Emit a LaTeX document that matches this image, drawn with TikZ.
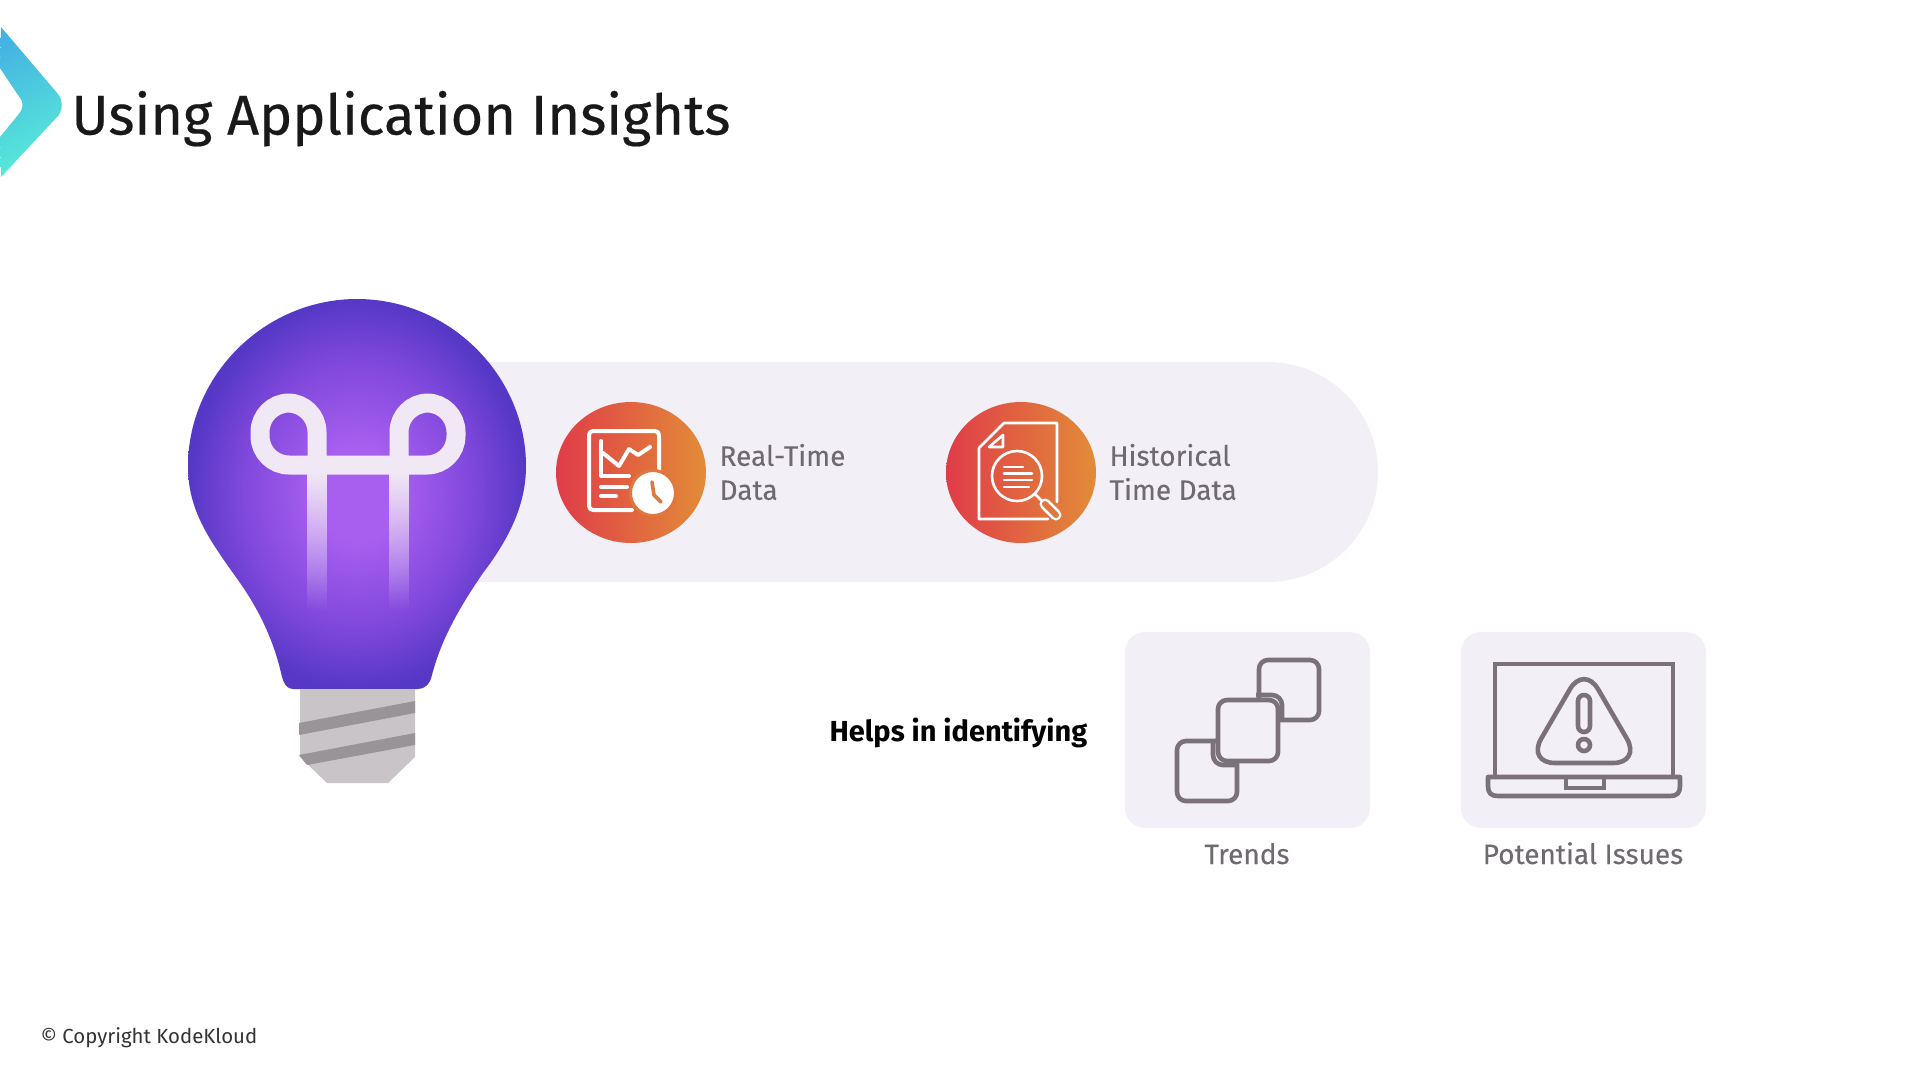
\documentclass[tikz,border=0pt]{standalone}
\usepackage{fontspec}
\usetikzlibrary{fadings}
\setmainfont{Fira Sans}
\newfontfamily\titlefont[FakeBold=0.35]{Fira Sans}
\newfontfamily\labelfont[FakeBold=0.12]{Fira Sans}
\definecolor{pillbg}{HTML}{F3EFF6}
\definecolor{icongray}{HTML}{7A7278}
\definecolor{labelgray}{HTML}{6F6A70}
\definecolor{capgray}{HTML}{C8C4C8}
\definecolor{capdark}{HTML}{989498}
\definecolor{fila}{HTML}{F0E8F5}
\definecolor{bulbin}{HTML}{A85FF0}
\definecolor{bulbmid}{HTML}{8048DC}
\definecolor{bulbout}{HTML}{5638C6}
\definecolor{badgel}{HTML}{E03C48}
\definecolor{badger}{HTML}{E28C38}
\definecolor{badgem}{HTML}{DE783E}
\definecolor{chevl}{HTML}{45B4E2}
\definecolor{chevr}{HTML}{58ECD8}
\pgfdeclareradialshading{bulbglow}{\pgfpoint{0bp}{0bp}}{color(0bp)=(bulbin); color(6bp)=(bulbin); color(17bp)=(bulbmid); color(25bp)=(bulbout); color(50bp)=(bulbout)}
\tikzfading[name=fadedown, top color=transparent!0, bottom color=transparent!100]
\tikzset{
	labeltxt/.style={anchor=west, align=left, text=labelgray, font=\labelfont\fontsize{28}{34}\selectfont},
	captxt/.style={anchor=base, text=labelgray, font=\labelfont\fontsize{28}{34}\selectfont},
	badge/.style={left color=badgel, right color=badger},
	iconline/.style={draw=white, line width=4pt, line cap=round, line join=round},
	thinline/.style={draw=white, line width=2.6pt, line cap=round, line join=round},
	grayline/.style={draw=icongray, line width=4.6pt, line join=round},
	filaline/.style={fila, line width=19pt, rounded corners=29pt},
	filabar/.style={fila, path fading=fadedown},
}
\begin{document}
\begin{tikzpicture}[x=1pt,y=-1pt]
\useasboundingbox (0,0) rectangle (1920,1080);

% chevron
\shade[left color=chevl, right color=chevr, shading angle=25] (1,27) -- (58,94) .. controls (63,101) and (63,109) .. (58,116) -- (1,177) -- (0,137) -- (18,115) .. controls (24,108) and (24,102) .. (18,95) -- (0,68) -- cycle;

\node[anchor=base west, text=black!90, font=\titlefont\fontsize{56}{64}\selectfont] (title) at (68,134.5) {Using Application Insights};

% pill
\fill[pillbg, rounded corners=110pt] (360,362) rectangle (1378,582);

% bulb
\shade[shading=bulbglow] (357,299) .. controls (450,299) and (526,376) .. (526,466) .. controls (526,506) and (508,540) .. (483,573) .. controls (459,608) and (441,640) .. (432,675) .. controls (430,684) and (425,689) .. (418,689) -- (293,689) .. controls (287,689) and (284,684) .. (282,677) .. controls (274,640) and (258,608) .. (238,580) .. controls (208,538) and (188,510) .. (188,466) .. controls (188,376) and (264,299) .. (357,299) -- cycle;

% filament
\draw[filaline] (317,466) -- (317,403) -- (260,403) -- (260,465) -- (345,465);
\draw[filaline] (399,466) -- (399,403) -- (456,403) -- (456,465) -- (345,465);
\fill[filabar] (307,474) rectangle (327,610);
\fill[filabar] (389,474) rectangle (409,610);

% cap
\fill[capgray] (300,689) -- (415,689) -- (415,757) -- (388,783) -- (327,783) -- (300,757) -- cycle;
\fill[capdark] (299,723) -- (415,701) -- (415,713) -- (299,735) -- cycle;
\fill[capdark] (299,755) -- (415,733) -- (415,745) -- (307,765) -- cycle;

% real-time badge
\shade[badge] (631,472.5) circle[x radius=75pt, y radius=70.5pt];
\draw[iconline, rounded corners=4pt] (632,510) -- (589,510) -- (589,431) -- (659,431) -- (659,478);
\draw[iconline] (601,441) -- (601,476) -- (629,476);
\draw[iconline] (603,453) -- (619,466) -- (629,449) -- (638,455) -- (650,447);
\draw[iconline] (601,487) -- (627,487);
\draw[iconline] (601,496) -- (616,496);
\filldraw[fill=white, draw=badgem, line width=3pt] (653,493) circle (22.5pt);
\draw[draw=badgem, line width=3.6pt, line cap=round, line join=round] (652,482) -- (654,495) -- (661,502);

\node[labeltxt] (realtime) at (716,472) {Real-Time\\Data};

% historical badge
\shade[badge] (1021,472.5) circle[x radius=75pt, y radius=70.5pt];
\draw[thinline] (1048,519) -- (979,519) -- (979,448) -- (1004,423) -- (1057,423) -- (1057,502);
\draw[thinline] (989,447) -- (1003,435) -- (1003,447) -- cycle;
\draw[thinline] (1017,476) circle (25pt);
\draw[thinline] (1004,467) -- (1023,467);
\draw[thinline] (1004,473.5) -- (1032,473.5);
\draw[thinline] (1004,480) -- (1032,480);
\draw[thinline] (1004,487) -- (1029,487);
\draw[thinline] (1035,494) -- (1042,501);
\draw[white, line width=11pt, line cap=round] (1045,504) -- (1056,515);
\draw[badgem, line width=6pt, line cap=round] (1045,504) -- (1056,515);

\node[labeltxt] (histdata) at (1106,472) {Historical\\Time Data};

\node[anchor=base west, text=black, font=\fontsize{29}{34}\selectfont\bfseries] (helps) at (826,741) {Helps in identifying};

% trends
\fill[pillbg, rounded corners=20pt] (1125,632) rectangle (1370,828);
\draw[grayline, rounded corners=9pt] (1259,660) rectangle (1319,720);
\draw[grayline, rounded corners=9pt] (1177,741) rectangle (1237,801);
\draw[grayline, rounded corners=10pt] (1256,695) -- (1282,695) -- (1282,720);
\draw[grayline, rounded corners=10pt] (1213,741) -- (1213,765) -- (1237,765);
\filldraw[fill=pillbg, grayline, rounded corners=9pt] (1218,700) rectangle (1278,761);
\node[captxt] (trends) at (1247,864) {Trends};

% issues
\fill[pillbg, rounded corners=20pt] (1461,632) rectangle (1706,828);
\draw[grayline, line join=miter] (1495,777) -- (1495,664) -- (1673,664) -- (1673,777);
\draw[grayline] (1488,777) -- (1488,786) .. controls (1488,793) and (1491,796) .. (1498,796) -- (1670,796) .. controls (1677,796) and (1680,793) .. (1680,786) -- (1680,777) -- cycle;
\draw[grayline, line join=miter] (1566,777) -- (1566,788) -- (1604,788) -- (1604,777);
\draw[grayline, rounded corners=28pt] (1584,665) -- (1641,763) -- (1527,763) -- cycle;
\draw[grayline, rounded corners=6pt] (1578,695) rectangle (1590,732);
\draw[grayline] (1584,745) circle (6pt);
\node[captxt] (issues) at (1583,864) {Potential Issues};

\node[anchor=base west, text=black!80, font=\fontsize{20.4}{24}\selectfont] (copyright) at (37,1043) {© Copyright KodeKloud};

\end{tikzpicture}
\end{document}
